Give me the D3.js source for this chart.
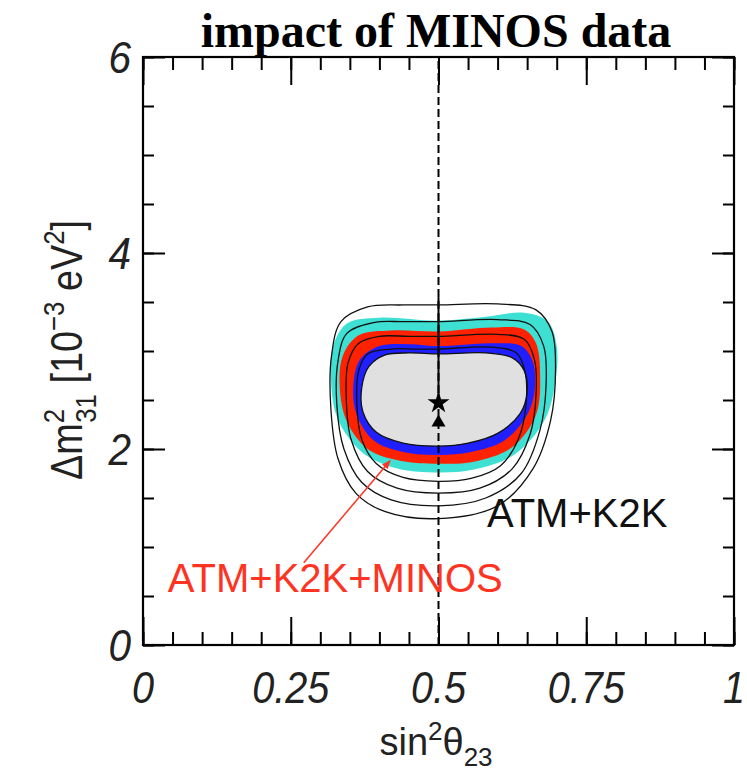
<!DOCTYPE html>
<html>
<head>
<meta charset="utf-8">
<script src="https://cdn.jsdelivr.net/npm/d3@7"></script>
<style>
  html, body { margin: 0; padding: 0; background: #fff; }
  svg { display: block; }
</style>
</head>
<body>
<div id="chart"></div>
<script>
// ---------------------------------------------------------------------------
// data (sin^2 theta23, dm^2_31 in 1e-3 eV^2)
// ---------------------------------------------------------------------------
const xMajor = [0, 0.25, 0.5, 0.75, 1];
const xLabels = ['0', '0.25', '0.5', '0.75', '1'];
const xMinor = d3.range(0, 1.0001, 0.05);
const yMajor = [0, 2, 4, 6];
const yLabels = ['0', '2', '4', '6'];
const yMinor = d3.range(0, 6.0001, 0.5);

// ATM+K2K+MINOS allowed regions (filled, outermost first)
const minos3sigma = [[0.50,3.31],[0.58,3.35],[0.645,3.39],[0.685,3.30],[0.70,3.05],[0.698,2.70],[0.68,2.30],[0.63,1.95],[0.56,1.79],[0.50,1.76],[0.43,1.80],[0.37,1.97],[0.33,2.30],[0.318,2.70],[0.322,3.05],[0.345,3.28],[0.40,3.34]];
const minos99 = [[0.50,3.20],[0.59,3.24],[0.645,3.22],[0.665,3.08],[0.672,2.75],[0.665,2.35],[0.625,2.02],[0.56,1.87],[0.50,1.85],[0.435,1.88],[0.38,2.00],[0.345,2.28],[0.333,2.62],[0.338,2.95],[0.365,3.16],[0.42,3.21]];
const minos95 = [[0.50,3.05],[0.59,3.08],[0.64,3.05],[0.659,2.90],[0.663,2.62],[0.651,2.36],[0.612,2.09],[0.555,1.97],[0.50,1.94],[0.44,1.97],[0.39,2.09],[0.361,2.36],[0.356,2.65],[0.367,2.91],[0.40,3.05],[0.45,3.07]];
const minos90 = [[0.50,2.97],[0.58,2.98],[0.625,2.93],[0.645,2.80],[0.650,2.58],[0.638,2.36],[0.60,2.16],[0.55,2.06],[0.50,2.03],[0.44,2.06],[0.395,2.17],[0.372,2.38],[0.370,2.62],[0.382,2.84],[0.41,2.96],[0.45,2.98]];

// ATM+K2K contours (lines only)
const atm90 = [[0.50,3.02],[0.59,3.04],[0.632,2.98],[0.646,2.80],[0.648,2.45],[0.635,2.10],[0.605,1.83],[0.555,1.70],[0.50,1.67],[0.44,1.71],[0.395,1.85],[0.37,2.10],[0.362,2.45],[0.365,2.80],[0.38,2.97],[0.42,3.02],[0.46,3.02]];
const atm95 = [[0.50,3.15],[0.60,3.17],[0.645,3.12],[0.662,2.92],[0.665,2.55],[0.655,2.15],[0.625,1.80],[0.57,1.60],[0.50,1.55],[0.43,1.60],[0.38,1.77],[0.352,2.10],[0.344,2.50],[0.347,2.88],[0.365,3.08],[0.40,3.15],[0.45,3.15]];
const atm99 = [[0.50,3.30],[0.60,3.32],[0.655,3.27],[0.678,3.05],[0.682,2.65],[0.672,2.20],[0.64,1.75],[0.58,1.50],[0.50,1.42],[0.42,1.48],[0.37,1.66],[0.34,2.00],[0.328,2.45],[0.33,2.90],[0.345,3.18],[0.39,3.29],[0.44,3.30]];
const atm3sigma = [[0.50,3.47],[0.60,3.48],[0.665,3.42],[0.692,3.20],[0.698,2.80],[0.690,2.30],[0.66,1.80],[0.60,1.42],[0.50,1.29],[0.41,1.36],[0.36,1.55],[0.33,1.90],[0.318,2.40],[0.319,2.95],[0.335,3.30],[0.38,3.45],[0.44,3.47]];

const bestFitMinos = [0.5, 2.47];   // star
const bestFitAtm = [0.5, 2.27];     // triangle
const octantLine = [0.5, 0, 6];     // dashed maximal-mixing line
const solidPart = [2.47, 3.55];

const labelAtm = {text: 'ATM+K2K', pos: [0.582, 1.20]};
const labelMinos = {text: 'ATM+K2K+MINOS', pos: [0.042, 0.54]};
const arrowFrom = [0.272, 0.84], arrowTo = [0.418, 1.88];

// ---------------------------------------------------------------------------
const W = 747, H = 777;
const svg = d3.select('#chart').append('svg').attr('width', W).attr('height', H);

const x = d3.scaleLinear().domain([0, 1]).range([143, 734]);
const y = d3.scaleLinear().domain([0, 6]).range([645, 57]);

const sans = '"Liberation Sans", Arial, Helvetica, sans-serif';

// regions
const line = d3.line().x(d => x(d[0])).y(d => y(d[1])).curve(d3.curveCatmullRomClosed);
const fills = [
  [minos3sigma, '#3fe0d4'],
  [minos99, '#ff2200'],
  [minos95, '#1f1fff'],
  [minos90, '#e0e0e0']
];
svg.append('g').selectAll('path').data(fills).join('path')
  .attr('d', d => line(d[0]))
  .attr('fill', d => d[1]);

// dashed vertical line
svg.append('line')
  .attr('x1', x(octantLine[0])).attr('x2', x(octantLine[0]))
  .attr('y1', y(octantLine[1])).attr('y2', y(octantLine[2]))
  .attr('stroke', '#000').attr('stroke-width', 2)
  .attr('stroke-dasharray', '8,4');
svg.append('line')
  .attr('x1', x(octantLine[0])).attr('x2', x(octantLine[0]))
  .attr('y1', y(solidPart[0])).attr('y2', y(solidPart[1]))
  .attr('stroke', '#000').attr('stroke-width', 2);

// ATM+K2K contours
svg.append('g').selectAll('path').data([minos90, atm90, atm95, atm99, atm3sigma]).join('path')
  .attr('d', d => line(d))
  .attr('fill', 'none')
  .attr('stroke', '#111')
  .attr('stroke-width', 1.3);

// best fit points
svg.append('path')
  .attr('d', d3.symbol(d3.symbolStar).size(150)())
  .attr('transform', `translate(${x(bestFitMinos[0])},${y(bestFitMinos[1])})`)
  .attr('fill', '#000');
svg.append('path')
  .attr('d', d3.symbol(d3.symbolTriangle).size(85)())
  .attr('transform', `translate(${x(bestFitAtm[0])},${y(bestFitAtm[1])})`)
  .attr('fill', '#000');

// axes (ticks point inwards, mirrored on all sides)
function tickAxis(axisFn, scale, vals, len, tf) {
  svg.append('g').attr('transform', tf)
    .call(axisFn(scale).tickValues(vals).tickSize(-len).tickFormat(''))
    .call(g => g.select('.domain').remove())
    .call(g => g.selectAll('line').attr('stroke', '#000').attr('stroke-width', 2));
}
tickAxis(d3.axisBottom, x, xMinor, 13, 'translate(0,645)');
tickAxis(d3.axisBottom, x, xMajor, 28, 'translate(0,645)');
tickAxis(d3.axisTop, x, xMinor, 13, 'translate(0,57)');
tickAxis(d3.axisTop, x, xMajor, 28, 'translate(0,57)');
tickAxis(d3.axisLeft, y, yMinor, 11, 'translate(143,0)');
tickAxis(d3.axisLeft, y, yMajor, 22, 'translate(143,0)');
tickAxis(d3.axisRight, y, yMinor, 11, 'translate(734,0)');
tickAxis(d3.axisRight, y, yMajor, 22, 'translate(734,0)');

svg.append('rect')
  .attr('x', 143).attr('y', 57).attr('width', 734 - 143).attr('height', 645 - 57)
  .attr('fill', 'none').attr('stroke', '#000').attr('stroke-width', 2.2);

// tick labels (slightly condensed italic, like Helvetica Narrow)
svg.append('g').selectAll('text').data(xMajor).join('text')
  .attr('transform', d => `translate(${x(d)},703) scale(0.9,1)`)
  .attr('text-anchor', 'middle')
  .attr('font-family', sans).attr('font-style', 'italic').attr('font-size', 44)
  .attr('fill', '#222')
  .text((d, i) => xLabels[i]);
svg.append('g').selectAll('text').data(yMajor).join('text')
  .attr('transform', d => `translate(131,${y(d) + 16}) scale(0.9,1)`)
  .attr('text-anchor', 'end')
  .attr('font-family', sans).attr('font-style', 'italic').attr('font-size', 45)
  .attr('fill', '#222')
  .text((d, i) => yLabels[i]);

// title
svg.append('text')
  .attr('x', 436).attr('y', 47)
  .attr('text-anchor', 'middle')
  .attr('font-family', '"Liberation Serif", "Times New Roman", serif')
  .attr('font-weight', 'bold').attr('font-size', 48)
  .text('impact of MINOS data');

// x axis title: sin^2 theta_23
const xt = svg.append('text')
  .attr('x', 436).attr('y', 755)
  .attr('text-anchor', 'middle')
  .attr('font-family', sans).attr('font-size', 38).attr('fill', '#222');
xt.append('tspan').text('sin');
xt.append('tspan').attr('font-size', 26).attr('dy', -15).text('2');
xt.append('tspan').attr('dy', 15).text('θ');
xt.append('tspan').attr('font-size', 26).attr('dy', 11).text('23');

// y axis title: Δm^2_31 [10^-3 eV^2]
const yt = svg.append('text')
  .attr('transform', 'translate(82,350) rotate(-90) scale(0.86,1)')
  .attr('text-anchor', 'middle')
  .attr('font-family', sans).attr('font-size', 44).attr('fill', '#222');
yt.append('tspan').text('Δm');
yt.append('tspan').attr('font-size', 30).attr('dy', -18).text('2');
yt.append('tspan').attr('font-size', 30).attr('dx', -16).attr('dy', 32).text('31');
yt.append('tspan').attr('dy', -14).text(' [10');
yt.append('tspan').attr('font-size', 30).attr('dy', -18).text('−3');
yt.append('tspan').attr('dy', 18).text(' eV');
yt.append('tspan').attr('font-size', 30).attr('dy', -18).text('2');
yt.append('tspan').attr('dy', 18).text(']');

// annotations
svg.append('text')
  .attr('x', x(labelAtm.pos[0])).attr('y', y(labelAtm.pos[1]))
  .attr('font-family', sans).attr('font-size', 40).attr('fill', '#111')
  .text(labelAtm.text);
svg.append('text')
  .attr('x', x(labelMinos.pos[0])).attr('y', y(labelMinos.pos[1]))
  .attr('font-family', sans).attr('font-size', 40).attr('fill', '#ff3322')
  .text(labelMinos.text);

svg.append('defs').append('marker')
  .attr('id', 'head').attr('viewBox', '0 0 10 10')
  .attr('refX', 9).attr('refY', 5)
  .attr('markerWidth', 9).attr('markerHeight', 9)
  .attr('markerUnits', 'userSpaceOnUse')
  .attr('orient', 'auto')
  .append('path').attr('d', 'M0,1 L10,5 L0,9 Z').attr('fill', '#ff3322');
svg.append('line')
  .attr('x1', x(arrowFrom[0])).attr('y1', y(arrowFrom[1]))
  .attr('x2', x(arrowTo[0])).attr('y2', y(arrowTo[1]))
  .attr('stroke', '#ff3322').attr('stroke-width', 1.5)
  .attr('marker-end', 'url(#head)');
</script>
</body>
</html>
